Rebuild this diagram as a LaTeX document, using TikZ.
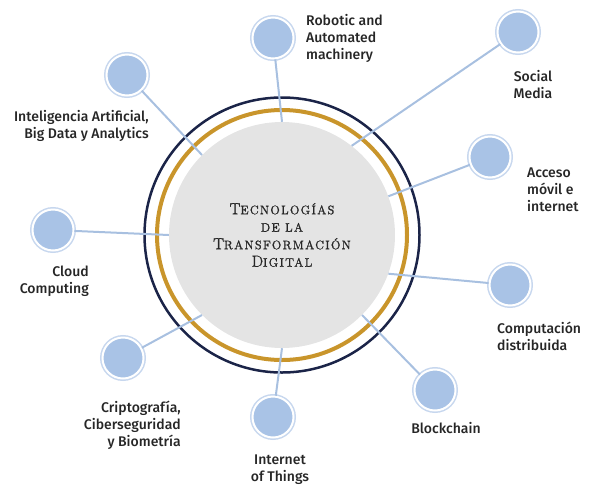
\documentclass[tikz,border=0pt]{standalone}
\usepackage{fontspec}
\setsansfont{Fira Sans}[UprightFont=* Medium]
\newfontfamily\capsfont{Latin Modern Roman}[LetterSpace=11,FakeBold=1.5]
\usetikzlibrary{calc}
\definecolor{navy}{HTML}{1B2448}
\definecolor{ocre}{HTML}{C9952B}
\definecolor{gris}{HTML}{E4E4E4}
\definecolor{bleu}{HTML}{A9C3E6}
\definecolor{bleuclair}{HTML}{C7D7EE}
\definecolor{lien}{HTML}{A8C0E0}
\definecolor{texte}{HTML}{262626}
\newcommand{\grand}[1]{{\fontsize{16}{17.5}\selectfont #1}}
\tikzset{
  sat/.style={circle, minimum size=41pt, inner sep=0pt, fill=bleu, draw=white, line width=2pt,
    preaction={draw=bleuclair, line width=5pt}},
  lbl/.style={font=\sffamily\fontsize{14}{17}\selectfont, text=texte, inner sep=0pt},
  lien/.style={draw=lien, line width=2pt}
}
\begin{document}
\begin{tikzpicture}[x=1pt,y=-1pt]
  \useasboundingbox (0,0) rectangle (594,488);
  %CENTRE
  \node[circle, fill=gris, minimum size=226pt, inner sep=0pt, align=center, text=texte,
        font=\capsfont\fontsize{12.3}{17.5}\selectfont] (T) at (282,235)
        {\grand{T}ECNOLOGÍAS\\DE LA\\\grand{T}RANSFORMACIÓN\\\grand{D}IGITAL};
  \draw[ocre, line width=4pt] (T.center) circle (125pt);
  \draw[navy, line width=2.5pt] (T.center) circle (137.5pt);

  %SATELLITES
  \node[sat] (robot) at (273,38) {};
  \node[sat] (social) at (518,32) {};
  \node[sat] (acceso) at (490,157) {};
  \node[sat] (comput) at (510,285) {};
  \node[sat] (block) at (435,390) {};
  \node[sat] (iot) at (273,417) {};
  \node[sat] (cripto) at (123,358) {};
  \node[sat] (cloud) at (53,230) {};
  \node[sat] (ia) at (127,75) {};

  %LIENS
  \draw[lien] (robot) -- (T.90);
  \draw[lien] (social) -- (T.52);
  \draw[lien] (acceso) -- (T.20);
  \draw[lien] (comput) -- (T.-20);
  \draw[lien] (block) -- (T.-45);
  \draw[lien] (iot) -- (T.-90);
  \draw[lien] (cripto) -- (T.-135);
  \draw[lien] (cloud) -- (T.180);
  \draw[lien] (ia) -- (T.135);

  %TEXTES
  \node[lbl, align=left, anchor=west] (robot-t) at (306,38) {Robotic and\\Automated\\machinery};
  \node[lbl, align=center] (social-t) at (533,85) {Social\\Media};
  \node[lbl, align=left, anchor=west] (acceso-t) at (527,190) {Acceso\\móvil e\\internet};
  \node[lbl, align=left, anchor=west] (comput-t) at (497,336) {Computación\\distribuida};
  \node[lbl] (block-t) at (446,428) {Blockchain};
  \node[lbl, align=center] (iot-t) at (280,470) {Internet\\of Things};
  \node[lbl, align=right, anchor=east] (cripto-t) at (181,425) {Criptografía,\\Ciberseguridad\\y Biometría};
  \node[lbl, align=right, anchor=east] (cloud-t) at (89,281) {Cloud\\Computing};
  \node[lbl, align=right, anchor=east] (ia-t) at (149,126) {Inteligencia Artificial,\\Big Data y Analytics};
\end{tikzpicture}
\end{document}
